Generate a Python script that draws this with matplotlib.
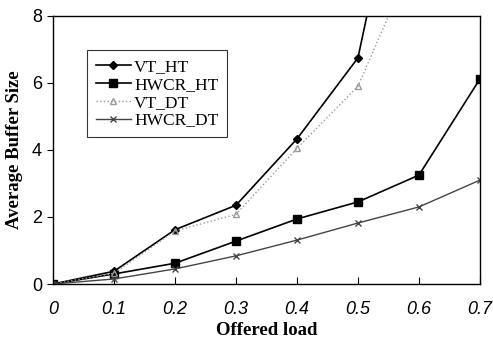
import matplotlib
matplotlib.use("Agg")
import matplotlib.pyplot as plt

load = [0, 0.1, 0.2, 0.3, 0.4, 0.5, 0.6, 0.7]
vt_ht_x = [0, 0.1, 0.2, 0.3, 0.4, 0.5, 0.6]
vt_ht = [0.0, 0.38, 1.62, 2.35, 4.33, 6.75, 15.3]
hwcr_ht = [0.0, 0.30, 0.62, 1.28, 1.94, 2.45, 3.25, 6.12]
vt_dt_x = [0, 0.1, 0.2, 0.3, 0.4, 0.5, 0.6]
vt_dt = [0.0, 0.32, 1.58, 2.08, 4.05, 5.9, 10.1]
hwcr_dt = [0.0, 0.15, 0.45, 0.84, 1.31, 1.82, 2.30, 3.10]
xticks = [0, 0.1, 0.2, 0.3, 0.4, 0.5, 0.6, 0.7]
xticklabels = ["0", "0.1", "0.2", "0.3", "0.4", "0.5", "0.6", "0.7"]
yticks = [0, 2, 4, 6, 8]

fig = plt.figure(figsize=(4.93, 3.45), dpi=100)
ax = fig.add_axes([0.1075, 0.1768, 0.866, 0.777])

ax.plot(vt_ht_x, vt_ht, color="black", lw=1.2, marker="D", ms=4.5, label="VT_HT")
ax.plot(load, hwcr_ht, color="black", lw=1.2, marker="s", ms=6, label="HWCR_HT")
ax.plot(vt_dt_x, vt_dt, color="#9a9a9a", lw=1.0, ls=":", marker="^", ms=4, mfc="none", mec="#9a9a9a", label="VT_DT")
ax.plot(load, hwcr_dt, color="#444444", lw=1.0, marker="x", ms=5, label="HWCR_DT")

ax.set_xlim(0, 0.7)
ax.set_ylim(0, 8)
ax.set_xticks(xticks)
ax.set_xticklabels(xticklabels, family="Liberation Sans", style="italic", fontsize=13)
ax.set_yticks(yticks)
ax.set_yticklabels([str(v) for v in yticks], family="Liberation Sans", fontsize=13)
ax.tick_params(axis="x", direction="in", length=5, pad=12)
ax.tick_params(axis="y", direction="out", length=4, pad=4)

ax.set_xlabel("Offered load", family="Liberation Serif", fontweight="bold", fontsize=13.5, labelpad=3)
ax.set_ylabel("Average Buffer Size", family="Liberation Serif", fontweight="bold", fontsize=13.5, labelpad=6)

for s in ax.spines.values():
    s.set_linewidth(1.0)

leg = ax.legend(loc="upper left", bbox_to_anchor=(0.06, 0.905), prop={"family": "Liberation Serif", "size": 12.5},
                frameon=True, fancybox=False, edgecolor="black", handlelength=2.0, handletextpad=0.2,
                labelspacing=0.1, borderpad=0.5)
leg.get_frame().set_linewidth(0.8)

fig.savefig("out.png", dpi=100)
